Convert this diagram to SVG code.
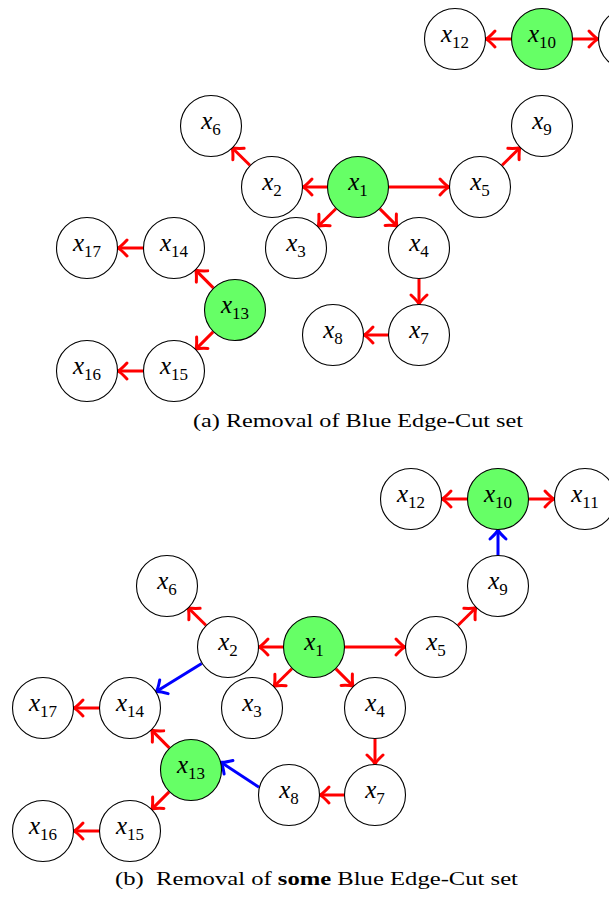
<svg xmlns="http://www.w3.org/2000/svg" width="609" height="900" viewBox="0 0 609 900">
  <style>
    .node circle { fill: #ffffff; stroke: #000000; stroke-width: 1.1; }
    .node.root circle { fill: #66ff66; }
    .node text { font-family: "Liberation Serif", "DejaVu Serif", serif; font-size: 25px; text-anchor: middle; fill: #000; }
    .node text .v { font-style: italic; }
    .node text .s { font-size: 17px; }
    .edge { fill: none; stroke-width: 3; }
    .red { stroke: #ff0000; marker-end: url(#tipRed); }
    .blue { stroke: #0000ff; marker-end: url(#tipBlue); }
    .caption { font-family: "Liberation Serif", "DejaVu Serif", serif; font-size: 18.5px; fill: #000; }
  </style>
  <defs>
    <marker id="tipRed" markerUnits="userSpaceOnUse" viewBox="-12 -11 14 22" markerWidth="14" markerHeight="22" refX="0" refY="0" orient="auto" overflow="visible">
      <path d="M -9,-8 Q -3,-1.5 0,0 Q -3,1.5 -9,8" fill="none" stroke="#ff0000" stroke-width="3" stroke-linecap="round" stroke-linejoin="round"/>
    </marker>
    <marker id="tipBlue" markerUnits="userSpaceOnUse" viewBox="-12 -11 14 22" markerWidth="14" markerHeight="22" refX="0" refY="0" orient="auto" overflow="visible">
      <path d="M -9,-8 Q -3,-1.5 0,0 Q -3,1.5 -9,8" fill="none" stroke="#0000ff" stroke-width="3" stroke-linecap="round" stroke-linejoin="round"/>
    </marker>
  </defs>

  <!-- (a): same layout as (b), shifted up and right, without the blue cut edges -->
  <g id="graph-a" transform="translate(44,-460)">
    <g id="a-edges">
      <path class="edge red" d="M283,647 L259,647"/>
      <path class="edge red" d="M345,647 L405,647"/>
      <path class="edge red" d="M291.9,668.7 L274.1,686.3"/>
      <path class="edge red" d="M335.9,668.9 L353.1,686.1"/>
      <path class="edge red" d="M205.9,625.3 L188.1,607.7"/>
      <path class="edge red" d="M458.1,625.3 L475.9,607.7"/>
      <path class="edge red" d="M467,499 L442,499"/>
      <path class="edge red" d="M529,499 L554,499"/>
      <path class="edge red" d="M375,739 L375,764"/>
      <path class="edge red" d="M344,795 L320,795"/>
      <path class="edge red" d="M169.3,747.9 L151.7,730.1"/>
      <path class="edge red" d="M169.1,791.9 L151.9,809.1"/>
      <path class="edge red" d="M99,708 L74,708"/>
      <path class="edge red" d="M99,831 L74,831"/>
    </g>
    <g id="a-x1" class="node root"><circle cx="314" cy="647" r="30.5"/><text x="314" y="650"><tspan class="v">x</tspan><tspan class="s" dy="6">1</tspan></text></g>
    <g id="a-x2" class="node"><circle cx="228" cy="647" r="30.5"/><text x="228" y="650"><tspan class="v">x</tspan><tspan class="s" dy="6">2</tspan></text></g>
    <g id="a-x3" class="node"><circle cx="252" cy="708" r="30.5"/><text x="252" y="711"><tspan class="v">x</tspan><tspan class="s" dy="6">3</tspan></text></g>
    <g id="a-x4" class="node"><circle cx="375" cy="708" r="30.5"/><text x="375" y="711"><tspan class="v">x</tspan><tspan class="s" dy="6">4</tspan></text></g>
    <g id="a-x5" class="node"><circle cx="436" cy="647" r="30.5"/><text x="436" y="650"><tspan class="v">x</tspan><tspan class="s" dy="6">5</tspan></text></g>
    <g id="a-x6" class="node"><circle cx="167" cy="586" r="30.5"/><text x="167" y="589"><tspan class="v">x</tspan><tspan class="s" dy="6">6</tspan></text></g>
    <g id="a-x7" class="node"><circle cx="375" cy="795" r="30.5"/><text x="375" y="798"><tspan class="v">x</tspan><tspan class="s" dy="6">7</tspan></text></g>
    <g id="a-x8" class="node"><circle cx="289" cy="795" r="30.5"/><text x="289" y="798"><tspan class="v">x</tspan><tspan class="s" dy="6">8</tspan></text></g>
    <g id="a-x9" class="node"><circle cx="498" cy="586" r="30.5"/><text x="498" y="589"><tspan class="v">x</tspan><tspan class="s" dy="6">9</tspan></text></g>
    <g id="a-x10" class="node root"><circle cx="498" cy="499" r="30.5"/><text x="498" y="502"><tspan class="v">x</tspan><tspan class="s" dy="6">10</tspan></text></g>
    <!-- x11 sits past the right border here; only its rim is in view -->
    <g id="a-x11" class="node"><circle cx="585" cy="499" r="30.5"/></g>
    <g id="a-x12" class="node"><circle cx="411" cy="499" r="30.5"/><text x="411" y="502"><tspan class="v">x</tspan><tspan class="s" dy="6">12</tspan></text></g>
    <g id="a-x13" class="node root"><circle cx="191" cy="770" r="30.5"/><text x="191" y="773"><tspan class="v">x</tspan><tspan class="s" dy="6">13</tspan></text></g>
    <g id="a-x14" class="node"><circle cx="130" cy="708" r="30.5"/><text x="130" y="711"><tspan class="v">x</tspan><tspan class="s" dy="6">14</tspan></text></g>
    <g id="a-x15" class="node"><circle cx="130" cy="831" r="30.5"/><text x="130" y="834"><tspan class="v">x</tspan><tspan class="s" dy="6">15</tspan></text></g>
    <g id="a-x16" class="node"><circle cx="43" cy="831" r="30.5"/><text x="43" y="834"><tspan class="v">x</tspan><tspan class="s" dy="6">16</tspan></text></g>
    <g id="a-x17" class="node"><circle cx="43" cy="708" r="30.5"/><text x="43" y="711"><tspan class="v">x</tspan><tspan class="s" dy="6">17</tspan></text></g>
  </g>
  <text class="caption" x="193" y="427" textLength="330" lengthAdjust="spacingAndGlyphs">(a) Removal of Blue Edge-Cut set</text>

  <!-- (b): partial removal, three blue edges kept -->
  <g id="graph-b">
    <g id="b-edges">
      <path class="edge red" d="M283,647 L259,647"/>
      <path class="edge red" d="M345,647 L405,647"/>
      <path class="edge red" d="M291.9,668.7 L274.1,686.3"/>
      <path class="edge red" d="M335.9,668.9 L353.1,686.1"/>
      <path class="edge red" d="M205.9,625.3 L188.1,607.7"/>
      <path class="edge blue" d="M201.7,663.4 L156.3,691.6"/>
      <path class="edge red" d="M458.1,625.3 L475.9,607.7"/>
      <path class="edge blue" d="M498,555 L498,530"/>
      <path class="edge red" d="M467,499 L442,499"/>
      <path class="edge red" d="M529,499 L554,499"/>
      <path class="edge red" d="M375,739 L375,764"/>
      <path class="edge red" d="M344,795 L320,795"/>
      <path class="edge blue" d="M259,787.3 L221,762.3"/>
      <path class="edge red" d="M169.3,747.9 L151.7,730.1"/>
      <path class="edge red" d="M169.1,791.9 L151.9,809.1"/>
      <path class="edge red" d="M99,708 L74,708"/>
      <path class="edge red" d="M99,831 L74,831"/>
    </g>
    <g id="b-x1" class="node root"><circle cx="314" cy="647" r="30.5"/><text x="314" y="650"><tspan class="v">x</tspan><tspan class="s" dy="6">1</tspan></text></g>
    <g id="b-x2" class="node"><circle cx="228" cy="647" r="30.5"/><text x="228" y="650"><tspan class="v">x</tspan><tspan class="s" dy="6">2</tspan></text></g>
    <g id="b-x3" class="node"><circle cx="252" cy="708" r="30.5"/><text x="252" y="711"><tspan class="v">x</tspan><tspan class="s" dy="6">3</tspan></text></g>
    <g id="b-x4" class="node"><circle cx="375" cy="708" r="30.5"/><text x="375" y="711"><tspan class="v">x</tspan><tspan class="s" dy="6">4</tspan></text></g>
    <g id="b-x5" class="node"><circle cx="436" cy="647" r="30.5"/><text x="436" y="650"><tspan class="v">x</tspan><tspan class="s" dy="6">5</tspan></text></g>
    <g id="b-x6" class="node"><circle cx="167" cy="586" r="30.5"/><text x="167" y="589"><tspan class="v">x</tspan><tspan class="s" dy="6">6</tspan></text></g>
    <g id="b-x7" class="node"><circle cx="375" cy="795" r="30.5"/><text x="375" y="798"><tspan class="v">x</tspan><tspan class="s" dy="6">7</tspan></text></g>
    <g id="b-x8" class="node"><circle cx="289" cy="795" r="30.5"/><text x="289" y="798"><tspan class="v">x</tspan><tspan class="s" dy="6">8</tspan></text></g>
    <g id="b-x9" class="node"><circle cx="498" cy="586" r="30.5"/><text x="498" y="589"><tspan class="v">x</tspan><tspan class="s" dy="6">9</tspan></text></g>
    <g id="b-x10" class="node root"><circle cx="498" cy="499" r="30.5"/><text x="498" y="502"><tspan class="v">x</tspan><tspan class="s" dy="6">10</tspan></text></g>
    <g id="b-x11" class="node"><circle cx="585" cy="499" r="30.5"/><text x="585" y="502"><tspan class="v">x</tspan><tspan class="s" dy="6">11</tspan></text></g>
    <g id="b-x12" class="node"><circle cx="411" cy="499" r="30.5"/><text x="411" y="502"><tspan class="v">x</tspan><tspan class="s" dy="6">12</tspan></text></g>
    <g id="b-x13" class="node root"><circle cx="191" cy="770" r="30.5"/><text x="191" y="773"><tspan class="v">x</tspan><tspan class="s" dy="6">13</tspan></text></g>
    <g id="b-x14" class="node"><circle cx="130" cy="708" r="30.5"/><text x="130" y="711"><tspan class="v">x</tspan><tspan class="s" dy="6">14</tspan></text></g>
    <g id="b-x15" class="node"><circle cx="130" cy="831" r="30.5"/><text x="130" y="834"><tspan class="v">x</tspan><tspan class="s" dy="6">15</tspan></text></g>
    <g id="b-x16" class="node"><circle cx="43" cy="831" r="30.5"/><text x="43" y="834"><tspan class="v">x</tspan><tspan class="s" dy="6">16</tspan></text></g>
    <g id="b-x17" class="node"><circle cx="43" cy="708" r="30.5"/><text x="43" y="711"><tspan class="v">x</tspan><tspan class="s" dy="6">17</tspan></text></g>
  </g>
  <text class="caption" x="115" y="885" textLength="403" lengthAdjust="spacingAndGlyphs" xml:space="preserve">(b)  Removal of <tspan font-weight="bold">some</tspan> Blue Edge-Cut set</text>
</svg>
